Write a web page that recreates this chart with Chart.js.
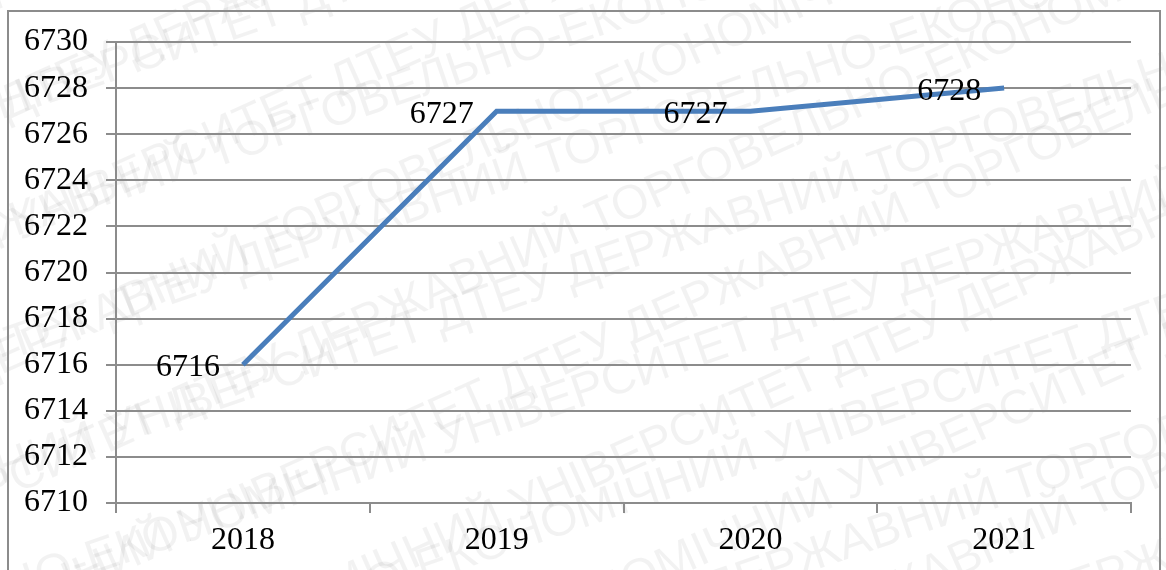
<!DOCTYPE html>
<html>
<head>
<meta charset="utf-8">
<script src="https://cdn.jsdelivr.net/npm/chart.js@4.4.1/dist/chart.umd.min.js"></script>
<style>
    html, body { margin: 0; padding: 0; background: #fff; }
    #wrap { width: 1166px; height: 570px; }
</style>
</head>
<body>
<div id="wrap"><canvas id="lineChart" width="1166" height="570"></canvas></div>
<script>
// ===== Data =====
const years = ['2018', '2019', '2020', '2021'];
const values = [6716, 6727, 6727, 6728];
const yMin = 6710;
const yMax = 6730;
const yStep = 2;

const watermarkText = 'ДТЕУ ДЕРЖАВНИЙ ТОРГОВЕЛЬНО-ЕКОНОМІЧНИЙ УНІВЕРСИТЕТ ';

// ===== Watermark + frame behind the chart =====
const backgroundPlugin = {
    id: 'backgroundPlugin',
    beforeDraw(chart) {
        const ctx = chart.ctx;
        ctx.save();
        ctx.fillStyle = '#fff';
        ctx.fillRect(0, 0, chart.width, chart.height);

        // faint diagonal watermark, two layers
        ctx.font = '48px "Liberation Sans", Arial, sans-serif';
        ctx.fillStyle = 'rgba(0, 0, 0, 0.05)';
        const line = watermarkText.repeat(4);
        [[-0.33, 0, 0], [-0.42, 60, 55]].forEach(([angle, dx, dy]) => {
            ctx.save();
            ctx.translate(chart.width / 2 + dx, chart.height / 2 + dy);
            ctx.rotate(angle);
            for (let r = -6; r <= 6; r++) {
                ctx.fillText(line, -1700 + (r * 310) % 900, r * 115);
            }
            ctx.restore();
        });

        // outer frame
        ctx.strokeStyle = '#8c8c8c';
        ctx.lineWidth = 2;
        ctx.strokeRect(8, 11, 1152, 600);
        ctx.restore();
    }
};

// ===== Value labels left of each point =====
const valueLabelPlugin = {
    id: 'valueLabelPlugin',
    afterDatasetsDraw(chart) {
        const ctx = chart.ctx;
        const meta = chart.getDatasetMeta(0);
        ctx.save();
        ctx.font = '32px "Liberation Serif", "Times New Roman", serif';
        ctx.fillStyle = '#000';
        ctx.textAlign = 'right';
        ctx.textBaseline = 'middle';
        meta.data.forEach((pt, i) => {
            ctx.fillText(String(values[i]), pt.x - 23, pt.y + 3);
        });
        ctx.restore();
    }
};

// ===== Chart =====
const serifFont = { family: '"Liberation Serif", "Times New Roman", serif', size: 32 };

new Chart(document.getElementById('lineChart'), {
    type: 'line',
    data: {
        labels: years,
        datasets: [{
            data: values,
            borderColor: '#4a7ebb',
            borderWidth: 5,
            tension: 0,
            pointRadius: 0,
            fill: false
        }]
    },
    options: {
        responsive: false,
        animation: false,
        devicePixelRatio: 1,
        layout: { padding: { left: 0, right: 35, top: 42, bottom: 0 } },
        plugins: {
            legend: { display: false },
            tooltip: { enabled: false }
        },
        scales: {
            x: {
                offset: true,
                grid: {
                    offset: true,
                    drawOnChartArea: false,
                    drawTicks: true,
                    tickLength: 10,
                    color: '#8c8c8c',
                    lineWidth: 2
                },
                border: { display: true, color: '#8c8c8c', width: 2 },
                ticks: { color: '#000', font: serifFont, padding: 8, maxRotation: 0 },
                afterFit(scale) { scale.height = 67; }
            },
            y: {
                min: yMin,
                max: yMax,
                grid: {
                    drawTicks: true,
                    tickLength: 10,
                    color: '#8c8c8c',
                    lineWidth: 2
                },
                border: { display: true, color: '#8c8c8c', width: 2 },
                ticks: {
                    stepSize: yStep,
                    color: '#000',
                    font: serifFont,
                    padding: 18,
                    callback: (v) => String(v)
                },
                afterFit(scale) { scale.width = 116; }
            }
        }
    },
    plugins: [backgroundPlugin, valueLabelPlugin]
});
</script>
</body>
</html>
